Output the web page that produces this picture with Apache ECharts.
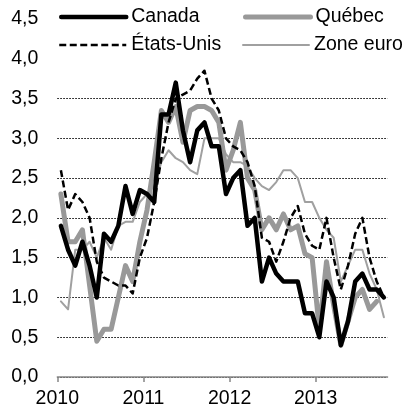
<!DOCTYPE html>
<html>
<head>
<meta charset="utf-8">
<script src="https://cdn.jsdelivr.net/npm/echarts@6/dist/echarts.min.js"></script>
<style>
  html, body { margin: 0; padding: 0; background: #fff; }
  #c1 { width: 411px; height: 409px; }
</style>
</head>
<body>
<div id="c1"></div>
<script>
// mois, janvier 2010 à octobre 2013
const months = [
  '2010-01', '2010-02', '2010-03', '2010-04', '2010-05', '2010-06', '2010-07', '2010-08', '2010-09', '2010-10', '2010-11', '2010-12',
  '2011-01', '2011-02', '2011-03', '2011-04', '2011-05', '2011-06', '2011-07', '2011-08', '2011-09', '2011-10', '2011-11', '2011-12',
  '2012-01', '2012-02', '2012-03', '2012-04', '2012-05', '2012-06', '2012-07', '2012-08', '2012-09', '2012-10', '2012-11', '2012-12',
  '2013-01', '2013-02', '2013-03', '2013-04', '2013-05', '2013-06', '2013-07', '2013-08', '2013-09', '2013-10'
];
const yearTicks = [0, 12, 24, 36];
const yearLabels = ['2010', '2011', '2012', '2013'];

const canada = [
  1.9, 1.6, 1.4, 1.7, 1.4, 1.0, 1.8, 1.7, 1.9, 2.4, 2.05, 2.35,
  2.3, 2.2, 3.3, 3.3, 3.7, 3.1, 2.7, 3.1, 3.2, 2.9, 2.9, 2.3,
  2.5, 2.6, 1.9, 2.0, 1.2, 1.5, 1.3, 1.2, 1.2, 1.2, 0.8, 0.8,
  0.5, 1.2, 1.0, 0.4, 0.7, 1.2, 1.3, 1.1, 1.1, 1.0
];
const quebec = [
  2.3, 1.7, 1.7, 1.85, 1.15, 0.45, 0.6, 0.6, 1.0, 1.4, 1.2, 1.7,
  2.1, 2.7, 3.35, 3.2, 3.4, 2.95, 3.35, 3.4, 3.4, 3.35, 3.2, 2.6,
  2.85, 3.2, 2.5, 2.35, 1.85, 2.0, 1.85, 2.05, 1.85, 1.9, 1.55, 1.5,
  0.6, 1.45, 0.9, 0.4, 0.7, 1.0, 1.1, 0.85, 0.95
];
const etatsUnis = [
  2.6, 2.1, 2.3, 2.2, 2.0, 1.45, 1.25, 1.2, 1.15, 1.15, 1.05, 1.5,
  1.75, 2.2, 2.75, 3.2, 3.5, 3.55, 3.6, 3.75, 3.85, 3.5, 3.35, 3.0,
  2.9, 2.85, 2.7, 2.4, 1.75, 1.7, 1.45, 1.7, 2.0, 2.15, 1.8, 1.65,
  1.6, 2.0, 1.5, 1.1, 1.4, 1.8, 2.0, 1.5, 1.2, 1.0
];
const zoneEuro = [
  0.95, 0.85, 1.6, 1.6, 1.7, 1.5, 1.75, 1.6, 1.9, 1.95, 1.95, 2.2,
  2.3, 2.4, 2.7, 2.85, 2.75, 2.7, 2.6, 2.55, 3.0, 3.0, 3.0, 2.8,
  2.7, 2.7, 2.65, 2.5, 2.4, 2.35, 2.45, 2.6, 2.6, 2.5, 2.2, 2.2,
  2.0, 1.85, 1.75, 1.2, 1.4, 1.6, 1.6, 1.3, 1.1, 0.75
];

const FONT = '"Liberation Sans", Arial, sans-serif';
const FS = 19.5;

// styles des traits
const styleCanada = { color: '#000', width: 4.5, type: 'solid', cap: 'round', join: 'round' };
const styleQuebec = { color: '#999999', width: 5, type: 'solid', cap: 'round', join: 'round' };
const styleUS = { color: '#000', width: 2.5, type: [7, 3.5], join: 'round' };
const styleEuro = { color: '#a0a0a0', width: 2, type: 'solid', cap: 'round', join: 'round' };

function legendItem(name, left, top, width, ls) {
  return {
    data: [name],
    left: left,
    top: top,
    padding: 0,
    itemWidth: width,
    itemHeight: 10,
    selectedMode: false,
    itemStyle: { opacity: 0 },
    lineStyle: { color: ls.color, width: ls.width, type: ls.type, cap: ls.cap || 'butt', opacity: 1 },
    textStyle: { fontFamily: FONT, fontSize: FS, color: '#000' }
  };
}

let myChart = echarts.init(document.getElementById('c1'), null, { renderer: 'canvas' });
let option = {
  animation: false,
  backgroundColor: '#fff',
  grid: { left: 57.3, right: 23.5, top: 19, bottom: 32 },
  legend: [
    legendItem('Canada', 59, 7, 65, styleCanada),
    legendItem('Québec', 243, 7, 65, styleQuebec),
    legendItem('États-Unis', 58, 35, 67, styleUS),
    legendItem('Zone euro', 242, 35, 66, styleEuro)
  ],
  xAxis: [
    {
      type: 'category',
      data: months,
      boundaryGap: true,
      position: 'bottom',
      axisLine: { lineStyle: { color: '#868686', width: 1.5 } },
      axisTick: { show: false },
      axisLabel: { show: false },
      splitLine: { show: false }
    },
    {
      type: 'value',
      min: 0,
      max: months.length,
      position: 'bottom',
      axisLine: { show: false },
      axisTick: {
        show: true,
        customValues: yearTicks,
        length: 5,
        lineStyle: { color: '#868686', width: 1.5 }
      },
      axisLabel: {
        customValues: yearTicks,
        formatter: function (v) {
          const k = yearTicks.indexOf(v);
          return k >= 0 ? yearLabels[k] : '';
        },
        margin: 12,
        fontFamily: FONT,
        fontSize: FS,
        color: '#000'
      },
      splitLine: { show: false }
    }
  ],
  yAxis: {
    type: 'value',
    min: 0,
    max: 4.5,
    interval: 0.5,
    axisLine: { show: false },
    axisTick: { show: false },
    axisLabel: {
      formatter: function (v) { return v.toFixed(1).replace('.', ','); },
      margin: 19,
      fontFamily: FONT,
      fontSize: FS,
      color: '#000'
    },
    splitLine: {
      show: true,
      lineStyle: {
        type: [1.5, 1.5],
        width: 1,
        // pas de ligne à 4,0 et 4,5 (sous la légende)
        color: ['#000', '#000', '#000', '#000', '#000', '#000', '#000', '#000', 'rgba(0,0,0,0)', 'rgba(0,0,0,0)']
      }
    }
  },
  series: [
    {
      name: 'Zone euro',
      type: 'line',
      data: zoneEuro,
      symbol: 'none',
      itemStyle: { color: styleEuro.color },
      lineStyle: styleEuro,
      emphasis: { disabled: true }
    },
    {
      name: 'Québec',
      type: 'line',
      data: quebec,
      symbol: 'none',
      itemStyle: { color: styleQuebec.color },
      lineStyle: styleQuebec,
      emphasis: { disabled: true }
    },
    {
      name: 'États-Unis',
      type: 'line',
      data: etatsUnis,
      symbol: 'none',
      itemStyle: { color: styleUS.color },
      lineStyle: styleUS,
      emphasis: { disabled: true }
    },
    {
      name: 'Canada',
      type: 'line',
      data: canada,
      symbol: 'none',
      itemStyle: { color: styleCanada.color },
      lineStyle: styleCanada,
      emphasis: { disabled: true }
    }
  ]
};
myChart.setOption(option);
</script>
</body>
</html>
